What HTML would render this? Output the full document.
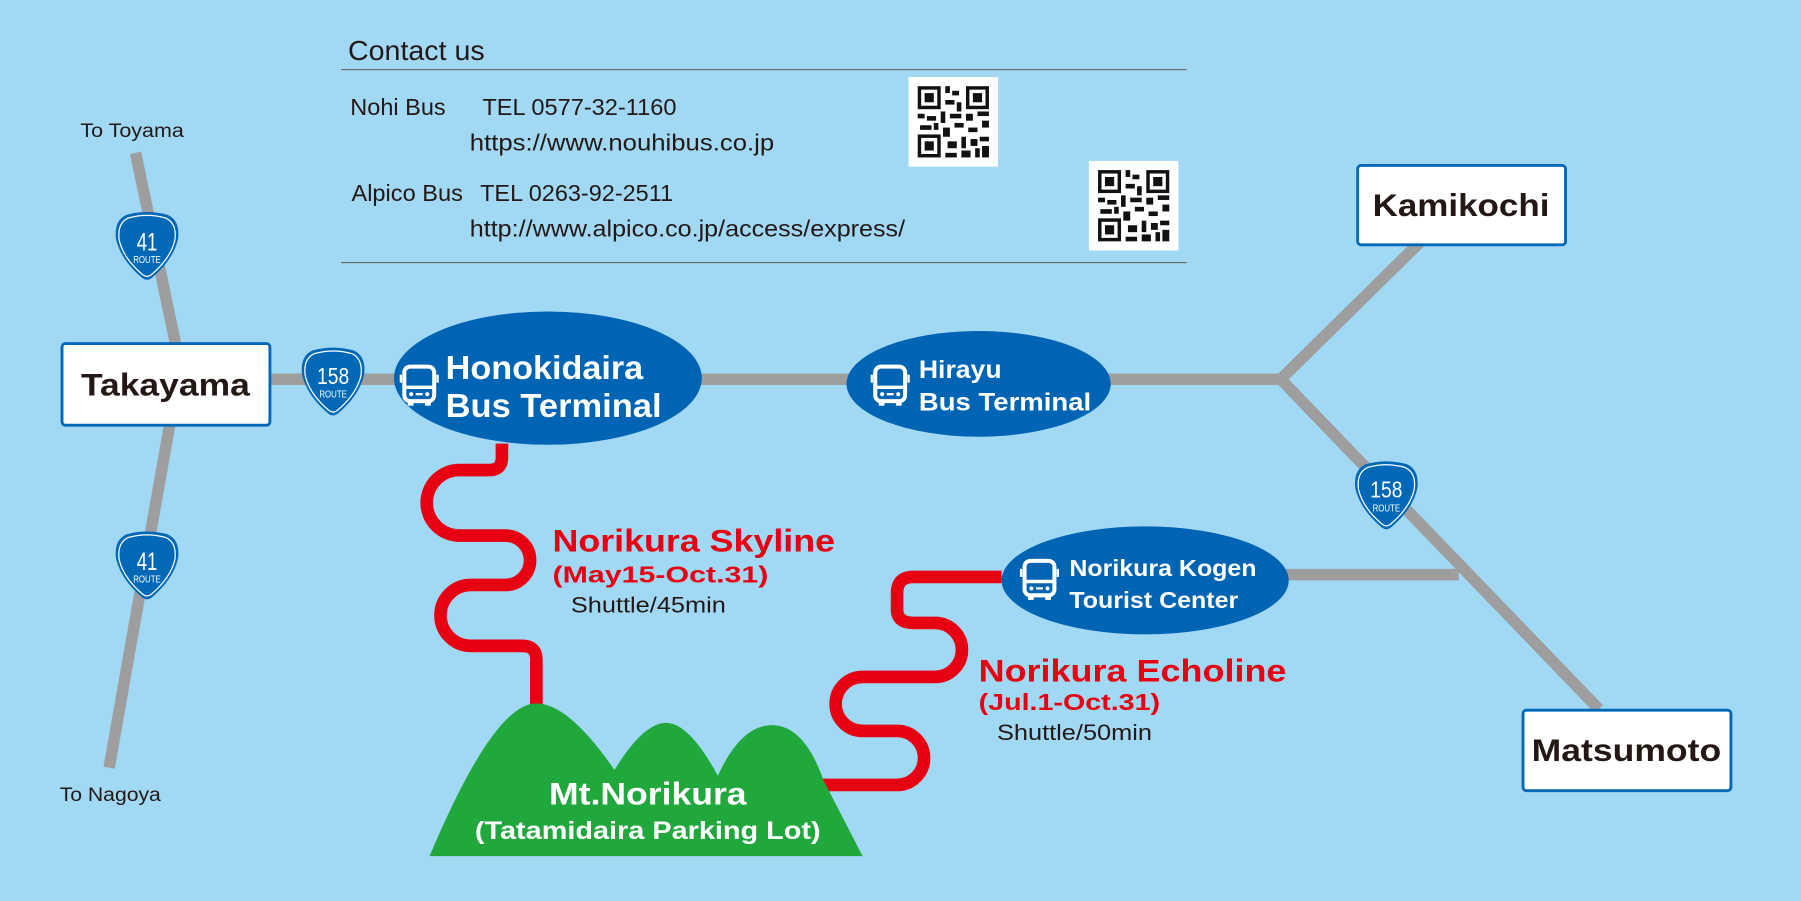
<!DOCTYPE html>
<html><head><meta charset="utf-8"><style>html,body{margin:0;padding:0;background:#a1d8f4;}svg{display:block}</style></head>
<body>
<svg width="1801" height="901" viewBox="0 0 1568 784" preserveAspectRatio="none" xmlns="http://www.w3.org/2000/svg" font-family="Liberation Sans, sans-serif">
<defs>
<g id="shield">
<path d="M-18,-27 Q0,-32 18,-27 Q29,-22 27,-6 Q23,12 4,28 Q0,31 -4,28 Q-23,12 -27,-6 Q-29,-22 -18,-27Z" fill="#0068b7"/>
<path d="M-18,-27 Q0,-32 18,-27 Q29,-22 27,-6 Q23,12 4,28 Q0,31 -4,28 Q-23,12 -27,-6 Q-29,-22 -18,-27Z" fill="none" stroke="#fff" stroke-width="1.2" transform="scale(0.9)"/>
</g>
<g id="bus" fill="none" stroke="#fff">
<rect x="3" y="1" width="26" height="30" rx="5" stroke-width="3.5"/>
<line x1="3" y1="19" x2="29" y2="19" stroke-width="3"/>
<line x1="0" y1="8" x2="0" y2="15" stroke-width="2"/>
<line x1="32" y1="8" x2="32" y2="15" stroke-width="2"/>
<rect x="6" y="30" width="5" height="5" fill="#fff" stroke="none"/>
<rect x="21" y="30" width="5" height="5" fill="#fff" stroke="none"/>
<circle cx="9" cy="25" r="1.8" fill="#fff" stroke="none"/>
<circle cx="23" cy="25" r="1.8" fill="#fff" stroke="none"/>
<line x1="13" y1="25" x2="19" y2="25" stroke-width="2"/>
</g>
<g id="qr">
<rect x="0" y="0" width="78" height="78" fill="#fff"/>
<g fill="#111">
<rect x="8" y="8" width="20" height="20"/><rect x="50" y="8" width="20" height="20"/><rect x="8" y="50" width="20" height="20"/>
</g>
<g fill="#fff"><rect x="11" y="11" width="14" height="14"/><rect x="53" y="11" width="14" height="14"/><rect x="11" y="53" width="14" height="14"/></g>
<g fill="#111"><rect x="14" y="14" width="8" height="8"/><rect x="56" y="14" width="8" height="8"/><rect x="14" y="56" width="8" height="8"/>
<rect x="32" y="8" width="4" height="6"/><rect x="38" y="12" width="6" height="4"/><rect x="32" y="20" width="8" height="4"/><rect x="42" y="22" width="4" height="8"/>
<rect x="8" y="32" width="6" height="4"/><rect x="16" y="34" width="8" height="4"/><rect x="28" y="30" width="4" height="10"/><rect x="36" y="32" width="10" height="4"/>
<rect x="50" y="32" width="6" height="6"/><rect x="60" y="30" width="10" height="4"/><rect x="64" y="38" width="6" height="6"/><rect x="10" y="42" width="10" height="4"/>
<rect x="30" y="44" width="6" height="8"/><rect x="40" y="40" width="8" height="4"/><rect x="52" y="44" width="8" height="4"/><rect x="34" y="56" width="8" height="6"/>
<rect x="46" y="52" width="4" height="10"/><rect x="54" y="54" width="6" height="6"/><rect x="62" y="52" width="8" height="4"/><rect x="32" y="66" width="10" height="4"/>
<rect x="46" y="64" width="8" height="6"/><rect x="58" y="62" width="4" height="8"/><rect x="64" y="60" width="6" height="10"/><rect x="22" y="40" width="4" height="6"/>
</g>
</g>
</defs>
<rect width="1568" height="784" fill="#a1d8f4"/>

<!-- contact -->
<text x="303" y="52" font-size="24" fill="#231815" textLength="119" lengthAdjust="spacingAndGlyphs">Contact us</text>
<line x1="297" y1="60.5" x2="1033" y2="60.5" stroke="#666" stroke-width="1"/>
<line x1="297" y1="228.5" x2="1033" y2="228.5" stroke="#666" stroke-width="1"/>
<g font-size="20" fill="#231815">
<text x="305" y="100" textLength="83" lengthAdjust="spacingAndGlyphs">Nohi Bus</text>
<text x="420" y="100" textLength="169" lengthAdjust="spacingAndGlyphs">TEL 0577-32-1160</text>
<text x="409" y="131" textLength="265" lengthAdjust="spacingAndGlyphs">https://www.nouhibus.co.jp</text>
<text x="306" y="175" textLength="97" lengthAdjust="spacingAndGlyphs">Alpico Bus</text>
<text x="418" y="175" textLength="168" lengthAdjust="spacingAndGlyphs">TEL 0263-92-2511</text>
<text x="409" y="206" textLength="379" lengthAdjust="spacingAndGlyphs">http://www.alpico.co.jp/access/express/</text>
</g>
<use href="#qr" x="791" y="67"/>
<use href="#qr" x="948" y="140"/>

<!-- roads -->
<g stroke="#9e9e9e" stroke-width="10" fill="none">
<line x1="118" y1="133" x2="153" y2="300"/>
<line x1="148" y1="368" x2="95" y2="668"/>
<line x1="235" y1="330" x2="1115" y2="330"/>
<polyline points="1236,211 1115,330 1392,617"/>
<line x1="1110" y1="500" x2="1270" y2="500"/>
</g>

<!-- red routes -->
<g stroke="#e60012" stroke-width="11" fill="none">
<path d="M437,386 V398 Q437,409 426,409 H400 A28.5,28.5 0 0 0 400,466 H440 A21.5,21.5 0 0 1 440,509 H410 A26.5,26.5 0 0 0 410,562 H455 Q467,562 467,574 V614"/>
<path d="M872,502 H795 Q781,502 781,516 V530 Q781,542 795,542 H814 A23.5,23.5 0 0 1 814,589 H751 A23.5,23.5 0 0 0 751,636 H781 A23.5,23.5 0 0 1 781,683 H716"/>
</g>

<!-- mountain -->
<path d="M374,745 Q430,612 467,612 Q495,612 535,670 Q560,629 580,629 Q600,629 625,675 Q645,631 672,631 Q700,631 717,679 L751,745 Z" fill="#20a83c"/>
<text x="564" y="700" font-size="27" font-weight="bold" fill="#fff" text-anchor="middle" textLength="172" lengthAdjust="spacingAndGlyphs">Mt.Norikura</text>
<text x="564" y="730" font-size="22" font-weight="bold" fill="#fff" text-anchor="middle" textLength="301" lengthAdjust="spacingAndGlyphs">(Tatamidaira Parking Lot)</text>

<!-- shields -->
<g font-family="Liberation Sans, sans-serif" fill="#fff" text-anchor="middle">
<g transform="translate(128,214)"><use href="#shield"/><text y="4" font-size="22" textLength="18" lengthAdjust="spacingAndGlyphs">41</text><text y="15" font-size="9" textLength="24" lengthAdjust="spacingAndGlyphs">ROUTE</text></g>
<g transform="translate(128,492)"><use href="#shield"/><text y="4" font-size="22" textLength="18" lengthAdjust="spacingAndGlyphs">41</text><text y="15" font-size="9" textLength="24" lengthAdjust="spacingAndGlyphs">ROUTE</text></g>
<g transform="translate(290,332)"><use href="#shield"/><text y="2" font-size="20" textLength="28" lengthAdjust="spacingAndGlyphs">158</text><text y="14" font-size="9" textLength="24" lengthAdjust="spacingAndGlyphs">ROUTE</text></g>
<g transform="translate(1207,431)"><use href="#shield"/><text y="2" font-size="20" textLength="28" lengthAdjust="spacingAndGlyphs">158</text><text y="14" font-size="9" textLength="24" lengthAdjust="spacingAndGlyphs">ROUTE</text></g>
</g>

<!-- ellipses -->
<ellipse cx="477" cy="329" rx="134" ry="58" fill="#0064b4"/>
<ellipse cx="852" cy="334" rx="115" ry="46" fill="#0064b4"/>
<ellipse cx="997" cy="505" rx="125" ry="47" fill="#0064b4"/>
<use href="#bus" x="349" y="318"/>
<use href="#bus" x="759" y="318"/>
<use href="#bus" x="889" y="487"/>
<g fill="#fff" font-weight="bold">
<text x="388" y="330" font-size="29" textLength="172" lengthAdjust="spacingAndGlyphs">Honokidaira</text>
<text x="388" y="363" font-size="29" textLength="188" lengthAdjust="spacingAndGlyphs">Bus Terminal</text>
<text x="800" y="329" font-size="22" textLength="72" lengthAdjust="spacingAndGlyphs">Hirayu</text>
<text x="800" y="357" font-size="22" textLength="150" lengthAdjust="spacingAndGlyphs">Bus Terminal</text>
<text x="931" y="501" font-size="20" textLength="163" lengthAdjust="spacingAndGlyphs">Norikura Kogen</text>
<text x="931" y="529" font-size="20" textLength="147" lengthAdjust="spacingAndGlyphs">Tourist Center</text>
</g>

<!-- city boxes -->
<g fill="#fff" stroke="#0068b7" stroke-width="2.5">
<rect x="54" y="299" width="181" height="71" rx="3"/>
<rect x="1182" y="144" width="181" height="69" rx="3"/>
<rect x="1326" y="618" width="181" height="70" rx="3"/>
</g>
<g fill="#231815" font-weight="bold" font-size="27" text-anchor="middle">
<text x="144" y="344" textLength="147" lengthAdjust="spacingAndGlyphs">Takayama</text>
<text x="1272" y="188" textLength="154" lengthAdjust="spacingAndGlyphs">Kamikochi</text>
<text x="1416" y="662" textLength="165" lengthAdjust="spacingAndGlyphs">Matsumoto</text>
</g>

<!-- route labels -->
<g fill="#e60012" font-weight="bold">
<text x="481" y="480" font-size="27" textLength="246" lengthAdjust="spacingAndGlyphs">Norikura Skyline</text>
<text x="481" y="507" font-size="20" textLength="188" lengthAdjust="spacingAndGlyphs">(May15-Oct.31)</text>
<text x="852" y="593" font-size="27" textLength="268" lengthAdjust="spacingAndGlyphs">Norikura Echoline</text>
<text x="852" y="618" font-size="20" textLength="158" lengthAdjust="spacingAndGlyphs">(Jul.1-Oct.31)</text>
</g>
<g fill="#231815" font-size="19">
<text x="497" y="533" textLength="135" lengthAdjust="spacingAndGlyphs">Shuttle/45min</text>
<text x="868" y="644" textLength="135" lengthAdjust="spacingAndGlyphs">Shuttle/50min</text>
<text x="70" y="119" font-size="17" textLength="90" lengthAdjust="spacingAndGlyphs">To Toyama</text>
<text x="52" y="697" font-size="17" textLength="88" lengthAdjust="spacingAndGlyphs">To Nagoya</text>
</g>
</svg>
</body></html>
